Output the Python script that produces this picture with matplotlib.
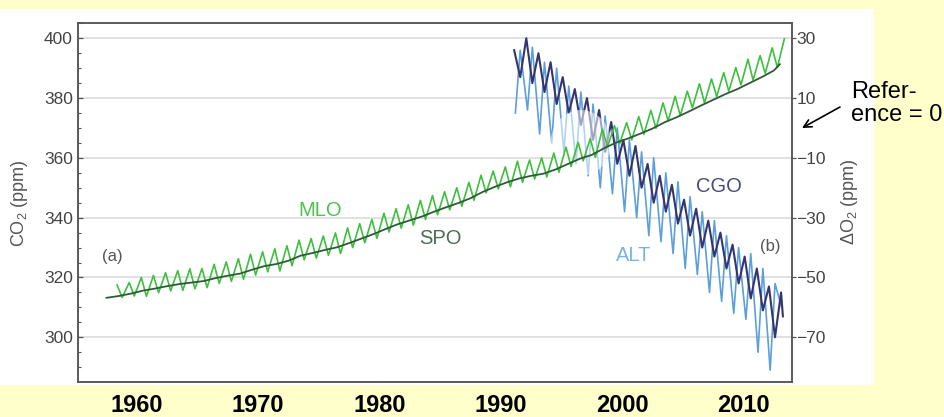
import numpy as np
import matplotlib
matplotlib.use("Agg")
import matplotlib.pyplot as plt
from matplotlib.patches import Rectangle, Ellipse
from matplotlib.ticker import MultipleLocator

plt.rcParams['font.family'] = ['Liberation Sans', 'DejaVu Sans']
plt.rcParams['mathtext.fontset'] = 'custom'
plt.rcParams['mathtext.rm'] = 'Liberation Sans'
plt.rcParams['mathtext.it'] = 'Liberation Sans:italic'
plt.rcParams['mathtext.bf'] = 'Liberation Sans:bold'

# ---------------- data ----------------
# Mauna Loa CO2: yearly seasonal maxima (May) and minima (Oct), ppm
mlo_years = list(range(1958, 2014))
mlo_peak = [317.5, 318.3, 320.0, 320.7, 321.6, 322.3, 322.9, 323.0, 324.4, 325.2,
            326.3, 327.8, 328.6, 329.6, 330.6, 332.5, 333.0, 333.9, 334.9, 336.6,
            338.0, 339.4, 341.5, 343.0, 344.3, 345.8, 347.4, 348.7, 350.0, 351.8,
            354.2, 355.6, 357.0, 358.9, 359.3, 360.0, 361.6, 363.6, 365.2, 366.4,
            369.6, 370.8, 371.8, 373.8, 375.9, 378.4, 380.6, 382.3, 384.8, 386.4,
            388.5, 390.2, 393.0, 394.2, 396.8, 399.8]
mlo_trough = [313.3, 313.8, 313.7, 314.9, 315.5, 315.7, 316.2, 316.6, 318.0, 318.7,
              319.4, 320.8, 321.9, 322.2, 323.9, 325.9, 326.5, 327.4, 328.0, 330.0,
              331.6, 333.1, 335.2, 336.5, 337.5, 339.4, 341.0, 342.6, 343.8, 345.8,
              348.3, 349.6, 350.3, 351.8, 352.9, 353.6, 355.2, 357.1, 359.0, 360.2,
              363.7, 364.7, 366.0, 367.9, 369.9, 372.4, 374.1, 376.8, 378.4, 380.5,
              382.3, 384.4, 386.0, 388.3, 390.2]

# South Pole CO2, ppm (one value per year, last one early 2013)
spo_years = [1957.5 + i for i in range(56)] + [2013.0]
spo_co2 = [313.2, 313.8, 314.6, 315.6, 316.3, 317.1, 317.8, 318.3, 318.8, 319.8,
           320.6, 321.3, 322.6, 323.8, 324.5, 325.6, 327.3, 328.2, 329.2, 330.1,
           331.5, 333.0, 334.5, 336.2, 337.8, 339.1, 340.4, 342.0, 343.5, 344.9,
           346.5, 348.6, 350.3, 351.8, 353.1, 354.0, 354.7, 356.1, 357.9, 359.7,
           361.0, 363.2, 365.1, 366.5, 368.1, 369.8, 371.9, 373.6, 375.5, 377.5,
           379.4, 381.3, 383.0, 385.0, 387.0, 389.2, 391.3]

# Cape Grim delta O2 (ppm equiv.): yearly maxima (Jan-Feb) and minima (Jul-Aug)
o2_years = list(range(1991, 2014))
cgo_peak = [26, 30, 25, 22, 17, 13, 10, 6, 2, -4, -6, -12, -16, -19, -24, -27,
            -31, -35, -39, -43, -47, -53, -55]
cgo_trough = [17, 15, 12, 8, 5, 1, -4, -8, -12, -16, -20, -25, -28, -32, -36,
              -40, -43, -47, -52, -57, -61, -70]
cgo_last = -63

# Alert delta O2: yearly minima (Mar) and maxima (Aug)
alt_trough = [5, 6, -2, -5, -8, -12, -16, -20, -22, -28, -30, -36, -38, -42, -47,
              -49, -55, -58, -62, -64, -75, -81]
alt_peak = [26, 27, 22, 20, 14, 12, 8, 4, 0, -4, -8, -10, -15, -18, -23, -28,
            -31, -36, -40, -42, -47, -52]
alt_last = -60

left_ticks = [300, 320, 340, 360, 380, 400]
right_ticks = [-70, -50, -30, -10, 10, 30]
x_ticks = [1960, 1970, 1980, 1990, 2000, 2010]

# ---------------- build series ----------------
mlo_t, mlo_v = [], []
for i, y in enumerate(mlo_years):
    mlo_t.append(y + 0.37); mlo_v.append(mlo_peak[i])
    if i < len(mlo_trough):
        mlo_t.append(y + 0.79); mlo_v.append(mlo_trough[i])

cgo_t, cgo_v = [], []
for i, y in enumerate(o2_years):
    cgo_t.append(y + 0.1); cgo_v.append(cgo_peak[i])
    if i < len(cgo_trough):
        cgo_t.append(y + 0.6); cgo_v.append(cgo_trough[i])
cgo_t.append(2013.25); cgo_v.append(cgo_last)

alt_t, alt_v = [], []
for i, y in enumerate(o2_years[:-1]):
    alt_t.append(y + 0.2); alt_v.append(alt_trough[i])
    alt_t.append(y + 0.6); alt_v.append(alt_peak[i])
alt_t.append(2013.15); alt_v.append(alt_last)

# ---------------- figure ----------------
W, H = 945, 417
fig = plt.figure(figsize=(W / 100, H / 100), dpi=100, facecolor='#FFFFCC')
fig.add_artist(Rectangle((0, 1 - 385 / H), 874 / W, (385 - 9) / H,
                         transform=fig.transFigure, facecolor='white',
                         edgecolor='none', zorder=-5))

ax = fig.add_axes([78 / W, 1 - 382 / H, (792 - 78) / W, (382 - 23) / H])
ax2 = ax.twinx()
ax.set_zorder(2)
ax2.set_zorder(1)
ax.patch.set_visible(False)
ax2.patch.set_visible(False)

ylo, yhi = 285.05, 405.1
offset = 370
ax.set_xlim(1955.15, 2014.0)
ax.set_ylim(ylo, yhi)
ax2.set_ylim(ylo - offset, yhi - offset)

# grid on lower axes
ax2.grid(True, axis='both', color='#dcdcdc', lw=1.2)
ax2.set_xticks(x_ticks)
ax2.tick_params(axis='x', which='both', length=0, labelbottom=False, labeltop=False)

# O2 series
ax2.plot(alt_t, alt_v, color='#5b9fdb', lw=1.2, zorder=2)
ax2.plot(cgo_t, cgo_v, color='#35356f', lw=1.5, zorder=3)
ax2.add_patch(Ellipse((1996.6, -5), 5.0, 22, facecolor='white', alpha=0.55,
                      edgecolor='none', zorder=4))

# CO2 series
ax.plot(mlo_t, mlo_v, color='#3fbf3f', lw=1.2, zorder=3)
ax.plot(spo_years, spo_co2, color='#2f5a39', lw=1.3, zorder=4)

for sp in list(ax.spines.values()) + list(ax2.spines.values()):
    sp.set_color('#555555')
    sp.set_linewidth(1.1)

ax.set_xticks(x_ticks)
ax.set_xticklabels([str(t) for t in x_ticks], fontsize=17, fontweight='bold', color='black')
ax.tick_params(axis='x', length=0, pad=8.3)

ax.set_yticks(left_ticks)
ax.yaxis.set_minor_locator(MultipleLocator(5))
ax.tick_params(axis='y', which='major', direction='in', length=3.3, width=0.9,
               color='#555555', labelsize=12.5, labelcolor='#444444', pad=3.6,
               right=False)
ax.tick_params(axis='y', which='minor', direction='in', length=2.2, width=0.8,
               color='#555555', right=False)

ax2.set_yticks(right_ticks)
ax2.tick_params(axis='y', which='major', direction='out', length=2.6, width=0.9,
                color='#555555', labelsize=12.5, labelcolor='#444444', pad=0.5)

# axis titles
fig.text(20 / W, 1 - 203 / H, 'CO$_2$ (ppm)', rotation=90, ha='center', va='center',
         fontsize=13, color='#555555')
fig.text(850 / W, 1 - 202 / H, 'ΔO$_2$ (ppm)', rotation=90, ha='center', va='center',
         fontsize=13, color='#555555')

# in-plot labels
ax.text(1975.1, 342.3, 'MLO', color='#4dc24d', fontsize=14.5, ha='center', va='center')
ax.text(1985.0, 332.9, 'SPO', color='#4b6e55', fontsize=14.5, ha='center', va='center')
ax.text(1957.95, 326.9, '(a)', color='#555555', fontsize=12, ha='center', va='center')
ax.text(2007.97, 350.3, 'CGO', color='#4a4a80', fontsize=14.5, ha='center', va='center')
ax.text(2000.96, 327.5, 'ALT', color='#7ab4e4', fontsize=14.5, ha='center', va='center')
ax.text(2012.2, 330.2, '(b)', color='#555555', fontsize=12, ha='center', va='center')

# reference annotation
fig.text(851 / W, 1 - 80.5 / H, 'Refer-\nence = 0', fontsize=17, color='black',
         ha='left', va='top', linespacing=1.1)
ax.annotate('', xy=(802 / W, 1 - 128 / H), xycoords='figure fraction',
            xytext=(840 / W, 1 - 107 / H), textcoords='figure fraction',
            arrowprops=dict(arrowstyle='->', color='black', lw=1.2,
                            mutation_scale=14, shrinkA=0, shrinkB=0),
            annotation_clip=False)

fig.savefig('out.png', dpi=100, facecolor=fig.get_facecolor())
